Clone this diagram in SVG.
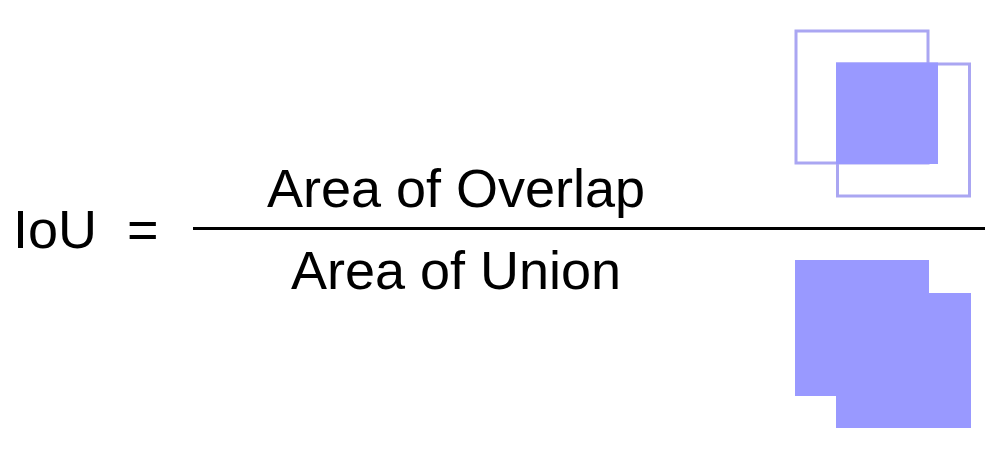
<svg xmlns="http://www.w3.org/2000/svg" width="1003" height="452" viewBox="0 0 1003 452">
<style>
text{font-family:"Liberation Sans",Arial,sans-serif;font-size:54px;fill:#000}
.box{fill:none;stroke:#aaa6f2;stroke-width:3}
.fill{fill:#9999ff}
</style>
<rect width="1003" height="452" fill="#fff"/>
<g id="equation">
<text x="13" y="248">IoU</text>
<text x="127" y="248">=</text>
</g>
<g id="fraction-line">
<line x1="193" y1="228.5" x2="985" y2="228.5" stroke="#000" stroke-width="3"/>
</g>
<g id="numerator">
<text x="456" y="207" text-anchor="middle">Area of Overlap</text>
</g>
<g id="denominator">
<text x="456" y="289" text-anchor="middle">Area of Union</text>
</g>
<g id="overlap-icon">
<rect class="box" x="796" y="31" width="132" height="132"/>
<rect class="box" x="837.5" y="64" width="132" height="132"/>
<rect class="fill" x="836" y="62.5" width="102" height="101.5"/>
</g>
<g id="union-icon">
<path class="fill" d="M795,260 H929 V293 H971 V428 H836 V396 H795 Z"/>
</g>
</svg>
